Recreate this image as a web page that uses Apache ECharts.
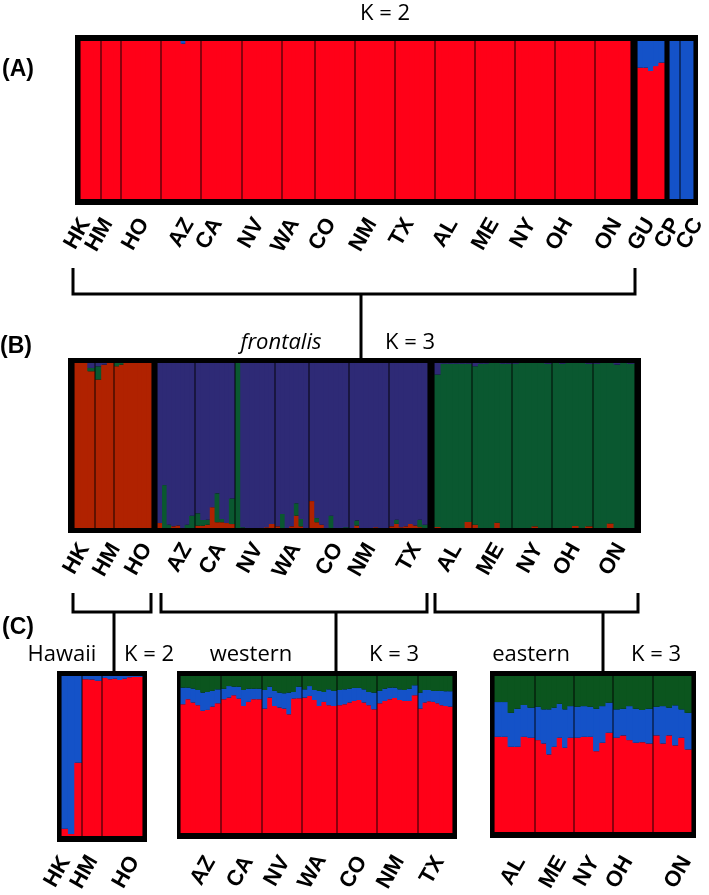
<!DOCTYPE html>
<html><head><meta charset="utf-8">
<script src="https://cdn.jsdelivr.net/npm/echarts@6/dist/echarts.min.js"></script>
<style>html,body{margin:0;padding:0;background:#fff}#c{width:709px;height:895px}</style>
</head><body><div id="c"></div>
<script>
// ================= DATA =================
const popNames = ['HK','HM','HO','AZ','CA','NV','WA','CO','NM','TX','AL','ME','NY','OH','ON','GU','CP','CC'];
const popSizes = [3,3,8,8,8,8,7,8,8,8,6,7,6,6,6,5,2,2];

// Panel A (K = 2): membership per individual, grouped by population
const A_red = [
  [1,1,1],[1,1,1],[1,1,1,1,1,1,1,1],
  [1,1,1,1,0.983,1,1,1],[1,1,1,1,1,1,1,1],[1,1,1,1,1,1,1,1],[1,1,1,1,1,1,1],
  [1,1,1,1,1,1,1,1],[1,1,1,1,1,1,1,1],[1,1,1,1,1,1,1,1],
  [1,1,1,1,1,1],[1,1,1,1,1,1,1],[1,1,1,1,1,1],[1,1,1,1,1,1],[1,1,1,1,1,1],
  [0.831,0.831,0.81,0.841,0.863],[0,0],[0,0]
];
const A_blue = [
  [0,0,0],[0,0,0],[0,0,0,0,0,0,0,0],
  [0,0,0,0,0.017,0,0,0],[0,0,0,0,0,0,0,0],[0,0,0,0,0,0,0,0],[0,0,0,0,0,0,0],
  [0,0,0,0,0,0,0,0],[0,0,0,0,0,0,0,0],[0,0,0,0,0,0,0,0],
  [0,0,0,0,0,0],[0,0,0,0,0,0,0],[0,0,0,0,0,0],[0,0,0,0,0,0],[0,0,0,0,0,0],
  [0.169,0.169,0.19,0.159,0.137],[1,1],[1,1]
];

// Panel B (frontalis, K = 3): stack order red, green, navy
const B_red = [
  [1,1,0.95],[0.90,0.99,1],[0.98,0.99,1,1,1,1,1,1],
  [0.03,0,0,0.01,0.015,0,0,0],
  [0.014,0.014,0.02,0.126,0.035,0.035,0.03,0.024],
  [0,0,0,0,0,0,0.005,0.025],
  [0.01,0,0,0.01,0.075,0.01,0],
  [0.163,0.035,0.02,0,0,0,0,0],
  [0,0.015,0,0,0,0.005,0,0],
  [0.01,0.025,0.005,0.01,0.025,0.015,0.005,0],
  [0.006,0,0,0,0,0.037],
  [0.02,0,0,0,0.032,0,0],
  [0,0,0,0.01,0,0],
  [0,0,0,0.012,0,0.01],
  [0,0,0.028,0,0,0]
];
const B_green = [
  [0,0,0.02],[0.08,0,0],[0.02,0.01,0,0,0,0,0,0],
  [0,0.26,0.02,0,0,0,0.02,0.075],
  [0.075,0.035,0.03,0,0.175,0.02,0,0.155],
  [1,0.005,0,0,0,0,0,0],
  [0,0.085,0,0,0.075,0.045,0],
  [0,0.025,0,0,0.075,0,0,0.005],
  [0,0.03,0,0,0,0,0,0],
  [0,0.025,0,0,0,0,0.045,0.02],
  [0.924,0.995,0.995,0.995,0.995,0.958],
  [0.96,0.995,0.995,1,0.968,0.995,0.995],
  [0.995,1,1,0.99,1,0.995],
  [1,0.995,1,0.988,1,0.985],
  [0.995,1,0.972,0.99,1,0.995]
];
const B_navy = [
  [0,0,0.03],[0.02,0.01,0],[0,0,0,0,0,0,0,0],
  [0.97,0.74,0.98,0.99,0.985,1,0.98,0.925],
  [0.911,0.951,0.95,0.874,0.79,0.945,0.97,0.821],
  [0,0.995,1,1,1,1,0.995,0.975],
  [0.99,0.915,1,0.99,0.85,0.945,1],
  [0.837,0.94,0.98,1,0.925,1,1,0.995],
  [1,0.955,1,1,1,0.995,1,1],
  [0.99,0.95,0.995,0.99,0.975,0.985,0.95,0.98],
  [0.07,0.005,0.005,0.005,0.005,0.005],
  [0.02,0.005,0.005,0,0,0.005,0.005],
  [0.005,0,0,0,0,0.005],
  [0,0.005,0,0,0,0.005],
  [0.005,0,0,0.01,0,0.005]
];

// Panel C, Hawaii (K = 2): stack order red, blue
const CH_red = [[0.046,0.012,0.458],[0.98,0.978,0.97],[0.988,0.98,0.983,0.975,0.983,0.992,0.994,0.994]];
const CH_blue = [[0.954,0.988,0.542],[0.02,0.022,0.03],[0.012,0.02,0.017,0.025,0.017,0.008,0.006,0.006]];

// Panel C, western (K = 3): stack order red, blue, green
const CW_red = [
  [0.820,0.852,0.831,0.814,0.778,0.784,0.805,0.826],
  [0.852,0.862,0.877,0.856,0.809,0.835,0.852,0.852],
  [0.792,0.862,0.809,0.799,0.792,0.756,0.856,0.858],
  [0.862,0.873,0.847,0.809,0.835,0.814,0.809],
  [0.814,0.820,0.831,0.841,0.847,0.831,0.814,0.788],
  [0.826,0.841,0.852,0.860,0.847,0.841,0.841,0.877],
  [0.792,0.831,0.839,0.835,0.826,0.814,0.809,0.805]
];
const CW_blue = [
  [0.106,0.074,0.089,0.097,0.116,0.114,0.100,0.089],
  [0.067,0.074,0.055,0.076,0.102,0.084,0.067,0.067],
  [0.119,0.070,0.096,0.095,0.098,0.138,0.042,0.074],
  [0.053,0.063,0.064,0.096,0.063,0.101,0.096],
  [0.097,0.095,0.088,0.083,0.077,0.084,0.084,0.106],
  [0.079,0.078,0.074,0.066,0.068,0.070,0.078,0.064],
  [0.102,0.080,0.072,0.070,0.079,0.091,0.094,0.098]
];
const CW_green = [
  [0.074,0.074,0.080,0.089,0.106,0.102,0.095,0.085],
  [0.081,0.064,0.068,0.068,0.089,0.081,0.081,0.081],
  [0.089,0.068,0.095,0.106,0.110,0.106,0.102,0.068],
  [0.085,0.064,0.089,0.095,0.102,0.085,0.095],
  [0.089,0.085,0.081,0.076,0.076,0.085,0.102,0.106],
  [0.095,0.081,0.074,0.074,0.085,0.089,0.081,0.059],
  [0.106,0.089,0.089,0.095,0.095,0.095,0.097,0.097]
];

// Panel C, eastern (K = 3): stack order red, blue, green
const CE_red = [
  [0.610,0.610,0.546,0.546,0.610,0.604],
  [0.589,0.567,0.497,0.546,0.604,0.540,0.604],
  [0.604,0.610,0.610,0.518,0.572,0.636],
  [0.604,0.619,0.589,0.572,0.576,0.567],
  [0.619,0.567,0.619,0.555,0.604,0.529]
];
const CE_blue = [
  [0.223,0.223,0.218,0.244,0.204,0.193],
  [0.214,0.219,0.289,0.251,0.218,0.246,0.203],
  [0.199,0.197,0.193,0.272,0.235,0.193],
  [0.182,0.171,0.218,0.218,0.206,0.223],
  [0.184,0.240,0.178,0.257,0.182,0.235]
];
const CE_green = [
  [0.167,0.167,0.236,0.210,0.186,0.203],
  [0.197,0.214,0.214,0.203,0.178,0.214,0.193],
  [0.197,0.193,0.197,0.210,0.193,0.171],
  [0.214,0.210,0.193,0.210,0.218,0.210],
  [0.197,0.193,0.203,0.188,0.214,0.236]
];

// ================= LAYOUT / STYLE =================
const COL = {
  red: '#FF0018', blue: '#1452C8', green: '#0B551E',
  bRed: '#B02200', bNavy: '#2E2A76', bGreen: '#0A5830'
};
const panels = [
  { pops: popNames.slice(0,18), frame:[75,35,698,205], y:[41,199], margin:21,
    x:[[81,101],[101,121],[121,161],[161,201],[201,242],[242,282],[282,315],[315,355],[355,395],[395,435],[435,475],[475,515],[515,555],[555,595],[595,630],[638,664],[670,680],[680,693]],
    labelDx:[-5,-3,3,8,-4,-3,-4,-4,-3,-6,-2,-1,-4,-7,4,-1,1,12],
    series:[{v:A_red,c:COL.red},{v:A_blue,c:COL.blue}] },
  { pops: popNames.slice(0,15), frame:[68,358,641,533], y:[363,528], margin:17,
    x:[[75,95],[95,114],[114,151],[158,195],[195,235],[235,275],[275,309],[309,349],[349,389],[389,427],[435,472],[472,512],[512,552],[552,593],[593,634]],
    labelDx:[0,11,14,11,6,3,4,9,2,8,4,7,6,3,7],
    series:[{v:B_red,c:COL.bRed},{v:B_green,c:COL.bGreen},{v:B_navy,c:COL.bNavy}] },
  { pops: popNames.slice(0,3), frame:[57,671,147,842], y:[676,836], margin:22,
    x:[[62,82],[82,102],[102,142]],
    labelDx:[-6,1,12],
    series:[{v:CH_red,c:COL.red},{v:CH_blue,c:COL.blue}] },
  { pops: popNames.slice(3,10), frame:[177,671,457,839], y:[676,833], margin:25,
    x:[[181,221],[221,262],[262,302],[302,337],[337,377],[377,418],[418,452]],
    labelDx:[10,7,3,2,5,2,4],
    series:[{v:CW_red,c:COL.red},{v:CW_blue,c:COL.blue},{v:CW_green,c:COL.green}] },
  { pops: popNames.slice(10,15), frame:[490,671,696,838], y:[676,832], margin:26,
    x:[[495,535],[535,574],[574,613],[613,653],[653,691]],
    labelDx:[6,7,1,-5,14],
    series:[{v:CE_red,c:COL.red},{v:CE_blue,c:COL.blue},{v:CE_green,c:COL.green}] }
];
const SEP = 1.8;
const labelFont = { fontFamily:'Liberation Sans', fontWeight:'bold', fontSize:22, color:'#000' };

const grid = [], xAxis = [], yAxis = [], series = [];
panels.forEach((p) => {
  // black frame
  const fg = grid.length;
  grid.push({ left:p.frame[0], top:p.frame[1], width:p.frame[2]-p.frame[0], height:p.frame[3]-p.frame[1],
    show:true, backgroundColor:'#000', borderWidth:0 });
  xAxis.push({ gridIndex:fg, type:'value', show:false });
  yAxis.push({ gridIndex:fg, type:'value', show:false });
  const colors = p.series.map(s => s.c);
  p.pops.forEach((name, i) => {
    const e = p.x[i];
    const tl = i > 0 && p.x[i-1][1] === e[0];
    const tr = i < p.pops.length-1 && p.x[i+1][0] === e[1];
    const gl = e[0] + (tl ? SEP/2 : 0), gr = e[1] - (tr ? SEP/2 : 0);
    const n = p.series[0].v[i].length;
    // bar grid for this population
    const g = grid.length;
    grid.push({ left:gl, top:p.y[0], width:gr-gl, height:p.y[1]-p.y[0], show:false });
    const bx = xAxis.length;
    xAxis.push({ gridIndex:g, type:'category', show:false, data:Array.from({length:n},(_,k)=>k) });
    const yi = yAxis.length;
    yAxis.push({ gridIndex:g, type:'value', min:0, max:1, show:false });
    const rows = [];
    for (let k = 0; k < n; k++) rows.push([k].concat(p.series.map(s => s.v[i][k])));
    series.push({ type:'custom', xAxisIndex:bx, yAxisIndex:yi, silent:true, data:rows,
      encode:{ x:0, y:1 },
      renderItem: (params, api) => {
        const k = api.value(0);
        const bw = api.size([1, 0])[0];
        const cx = api.coord([k, 0])[0];
        const x0 = cx - bw/2 - 0.45, w = bw + 0.9;
        let cum = 0; const children = [];
        colors.forEach((c, ci) => {
          const v = api.value(ci + 1);
          const yb = api.coord([k, cum])[1];
          cum += v;
          const yt = api.coord([k, cum])[1];
          if (yb - yt > 0) children.push({ type:'rect', shape:{ x:x0, y:yt, width:w, height:yb-yt }, style:{ fill:c } });
        });
        return { type:'group', children };
      } });
    // label grid (population name under the bars)
    const lg = grid.length;
    grid.push({ left:gl + p.labelDx[i], top:p.y[0], width:gr-gl, height:p.y[1]-p.y[0], show:false });
    xAxis.push({ gridIndex:lg, type:'category', position:'bottom', data:[name],
      axisLine:{show:false}, axisTick:{show:false}, splitLine:{show:false},
      axisLabel:Object.assign({ rotate:60, margin:p.margin, interval:0 }, labelFont) });
    yAxis.push({ gridIndex:lg, type:'value', show:false });
  });
});

const T = (text, x, y, font) => ({ type:'text', x, y, silent:true,
  style:{ text, font, fill:'#000', align:'center', verticalAlign:'middle' } });
const titleFont = '22px "Open Sans"';
const italicFont = 'italic 22px "Open Sans"';
const letterFont = 'bold 23px "Liberation Sans"';
const L = (pts) => ({ type:'polyline', silent:true, shape:{ points:pts }, style:{ stroke:'#000', lineWidth:3, fill:null } });

const graphic = [
  T('K = 2', 385, 14, titleFont),
  T('(A)', 18, 70, letterFont),
  T('(B)', 16, 347, letterFont),
  T('(C)', 18, 628, letterFont),
  T('frontalis', 281, 343, italicFont),
  T('K = 3', 410, 343, titleFont),
  T('Hawaii', 62, 655, titleFont),
  T('K = 2', 149, 655, titleFont),
  T('western', 251, 655, titleFont),
  T('K = 3', 394, 655, titleFont),
  T('eastern', 531, 655, titleFont),
  T('K = 3', 656, 655, titleFont),
  L([[73,268],[73,294],[635,294],[635,268]]),
  L([[361,294],[361,358]]),
  L([[73,593],[73,612],[151,612],[151,593]]),
  L([[114,612],[114,671]]),
  L([[161,593],[161,612],[427,612],[427,593]]),
  L([[336,612],[336,671]]),
  L([[435,593],[435,612],[638,612],[638,593]]),
  L([[603,612],[603,671]])
];

const chart = echarts.init(document.getElementById('c'), null, { renderer:'canvas' });
chart.setOption({ animation:false, backgroundColor:'#fff', grid, xAxis, yAxis, series, graphic });
</script>
</body></html>
